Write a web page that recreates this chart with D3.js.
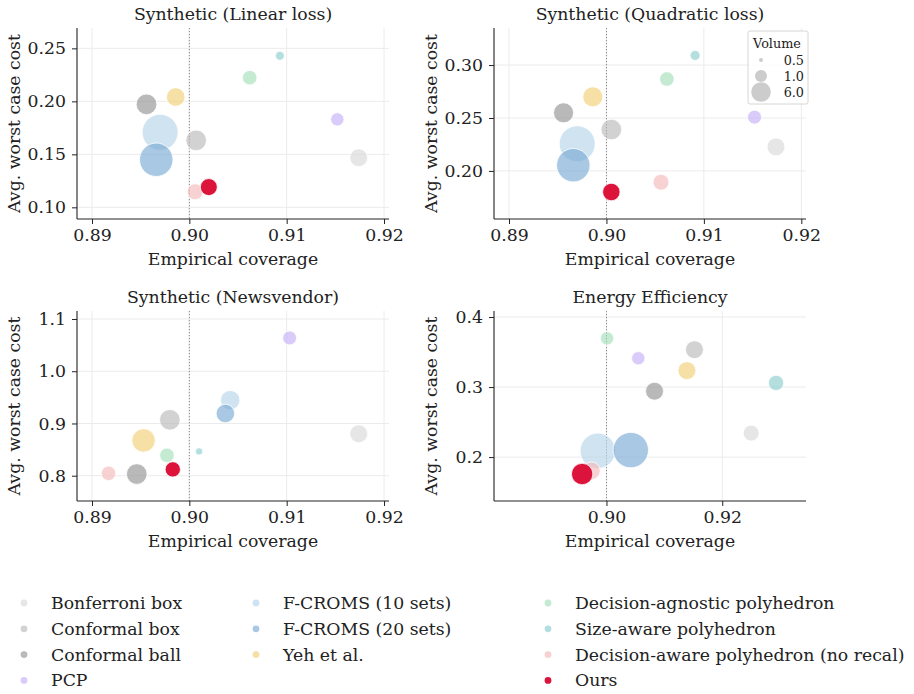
<!DOCTYPE html>
<html>
<head>
<meta charset="utf-8">
<script src="https://cdn.jsdelivr.net/npm/d3@7.9.0/dist/d3.min.js"></script>
<style>
  body { margin: 0; background: #fff; }
  svg, svg text { font-family: "DejaVu Serif", "Liberation Serif", serif; }
</style>
</head>
<body>
<svg id="chart" width="914" height="694"></svg>
<script>
const methods = ["Bonferroni box", "Conformal box", "Conformal ball", "PCP",
  "F-CROMS (10 sets)", "F-CROMS (20 sets)", "Yeh et al.",
  "Decision-agnostic polyhedron", "Size-aware polyhedron",
  "Decision-aware polyhedron (no recal)", "Ours"];
const colors = ["#d8d8d8", "#bababa", "#939393", "#c4b0f9", "#b5d4e8", "#7baad4",
  "#f3cf76", "#a4dfba", "#8dcece", "#f4babb", "#dc143c"];

const panelTitles = ["Synthetic (Linear loss)", "Synthetic (Quadratic loss)",
  "Synthetic (Newsvendor)", "Energy Efficiency"];

// empirical coverage, avg worst case cost, volume (same order as methods)
const linearCoverage = [0.9174, 0.9007, 0.8956, 0.9152, 0.8970, 0.8966, 0.8986, 0.9062, 0.9093, 0.9006, 0.9020];
const linearCost     = [0.1468, 0.1632, 0.1972, 0.1830, 0.1708, 0.1449, 0.2041, 0.2223, 0.2430, 0.1147, 0.1191];
const linearVolume   = [4.9, 6.7, 6.7, 1.9, 16.8, 15.1, 5.3, 2.7, 0.81, 3.6, 4.3];

const quadCoverage = [0.9174, 0.9005, 0.8956, 0.9152, 0.8970, 0.8966, 0.8986, 0.9062, 0.9091, 0.9056, 0.9005];
const quadCost     = [0.2227, 0.2391, 0.2549, 0.2508, 0.2256, 0.2054, 0.2700, 0.2868, 0.3091, 0.1893, 0.1801];
const quadVolume   = [4.9, 6.7, 6.3, 2.3, 16.8, 15.1, 6.3, 2.7, 0.88, 3.6, 4.6];

const newsCoverage = [0.9174, 0.8980, 0.8946, 0.9103, 0.9042, 0.9037, 0.8953, 0.8977, 0.9010, 0.8917, 0.8983];
const newsCost     = [0.8803, 0.9070, 0.8032, 1.0637, 0.9446, 0.9191, 0.8675, 0.8389, 0.8465, 0.8045, 0.8121];
const newsVolume   = [4.9, 6.7, 6.7, 2.3, 5.9, 5.3, 8.5, 2.7, 0.71, 2.7, 3.2];

const energyCoverage = [0.9250, 0.9152, 0.9083, 0.9055, 0.8985, 0.9042, 0.9139, 0.9001, 0.9293, 0.8974, 0.8958];
const energyCost     = [0.2342, 0.3534, 0.2941, 0.3411, 0.2090, 0.2100, 0.3235, 0.3696, 0.3059, 0.1805, 0.1758];
const energyVolume   = [3.6, 4.9, 4.9, 1.9, 16.4, 16.4, 4.9, 1.9, 3.2, 4.7, 7.2];

const xTicksSynth = [0.89, 0.90, 0.91, 0.92];
const xTicksEnergy = [0.90, 0.92];
const yTicksLinear = [0.10, 0.15, 0.20, 0.25];
const yTicksQuad = [0.20, 0.25, 0.30];
const yTicksNews = [0.8, 0.9, 1.0, 1.1];
const yTicksEnergy = [0.2, 0.3, 0.4];

const volumeLegend = [0.5, 1.0, 6.0];
const targetCoverage = 0.90;

const panels = [
  { title: panelTitles[0], cov: linearCoverage, cost: linearCost, vol: linearVolume,
    xd: [0.88846, 0.92051], yd: [0.089, 0.2692], xt: xTicksSynth, yt: yTicksLinear, yf: ".2f",
    box: [77, 28, 389, 219] },
  { title: panelTitles[1], cov: quadCoverage, cost: quadCost, vol: quadVolume,
    xd: [0.88846, 0.92048], yd: [0.1546, 0.335], xt: xTicksSynth, yt: yTicksQuad, yf: ".2f",
    box: [494, 28, 806, 219] },
  { title: panelTitles[2], cov: newsCoverage, cost: newsCost, vol: newsVolume,
    xd: [0.88846, 0.92051], yd: [0.7516, 1.1153], xt: xTicksSynth, yt: yTicksNews, yf: ".1f",
    box: [77, 311, 389, 501] },
  { title: panelTitles[3], cov: energyCoverage, cost: energyCost, vol: energyVolume,
    xd: [0.88057, 0.93447], yd: [0.1373, 0.4086], xt: xTicksEnergy, yt: yTicksEnergy, yf: ".1f",
    box: [494, 311, 806, 501] }
];

// marker radius from volume (piecewise, matches the Volume legend)
const rScale = d3.scaleLinear().domain([0.5, 1, 6]).range([2, 6, 9.8]);

const svg = d3.select("#chart");
const ink = "#222";
const fs = 17.3;
const serif = "DejaVu Serif";

panels.forEach((p, pi) => {
  const [x0, y0, x1, y1] = p.box;
  const x = d3.scaleLinear().domain(p.xd).range([x0, x1]);
  const y = d3.scaleLinear().domain(p.yd).range([y1, y0]);
  const g = svg.append("g");

  // grid
  g.selectAll(".gx").data(p.xt).join("line")
    .attr("x1", d => x(d)).attr("x2", d => x(d))
    .attr("y1", y0).attr("y2", y1)
    .attr("stroke", "#ebebeb").attr("stroke-width", 1);
  g.selectAll(".gy").data(p.yt).join("line")
    .attr("y1", d => y(d)).attr("y2", d => y(d))
    .attr("x1", x0).attr("x2", x1)
    .attr("stroke", "#ebebeb").attr("stroke-width", 1);

  // target coverage
  g.append("line")
    .attr("x1", x(targetCoverage)).attr("x2", x(targetCoverage))
    .attr("y1", y0).attr("y2", y1)
    .attr("stroke", "#888").attr("stroke-width", 1)
    .attr("stroke-dasharray", "1.2,1.8");

  const pts = methods.map((m, i) => ({ m, i, cx: p.cov[i], cy: p.cost[i], v: p.vol[i] }));
  g.selectAll("circle").data(pts).join("circle")
    .attr("cx", d => x(d.cx)).attr("cy", d => y(d.cy))
    .attr("r", d => rScale(d.v))
    .attr("fill", d => colors[d.i])
    .attr("fill-opacity", d => d.m === "Ours" ? 1 : 0.65)
    .attr("stroke", "#fff").attr("stroke-width", 0.8);

  // axes
  const xa = g.append("g").attr("transform", `translate(0,${y1})`)
    .call(d3.axisBottom(x).tickValues(p.xt).tickFormat(d3.format(".2f")).tickSize(5).tickPadding(5));
  const ya = g.append("g").attr("transform", `translate(${x0},0)`)
    .call(d3.axisLeft(y).tickValues(p.yt).tickFormat(d3.format(p.yf)).tickSize(5).tickPadding(6));
  [xa, ya].forEach(a => {
    a.attr("font-family", serif).attr("font-size", fs);
    a.selectAll(".tick text").attr("font-family", serif).attr("font-size", fs).attr("fill", ink);
    a.select(".domain").attr("stroke", ink).attr("stroke-width", 1.1);
    a.selectAll(".tick line").attr("stroke", ink);
  });
  ya.select(".domain").attr("d", `M0,${y0}V${y1}`);
  xa.select(".domain").attr("d", `M${x0},0H${x1}`);

  g.append("text")
    .attr("x", (x0 + x1) / 2).attr("y", y0 - 8)
    .attr("text-anchor", "middle").attr("font-size", fs).attr("fill", ink)
    .text(p.title);
  g.append("text")
    .attr("x", (x0 + x1) / 2).attr("y", y1 + 46)
    .attr("text-anchor", "middle").attr("font-size", fs).attr("fill", ink)
    .text("Empirical coverage");
  g.append("text")
    .attr("transform", `translate(${x0 - 57},${(y0 + y1) / 2}) rotate(-90)`)
    .attr("text-anchor", "middle").attr("font-size", fs).attr("fill", ink)
    .text("Avg. worst case cost");

  // volume legend in the second panel
  if (pi === 1) {
    const lg = g.append("g");
    lg.append("rect").attr("x", 748).attr("y", 31).attr("width", 60).attr("height", 73)
      .attr("rx", 2).attr("fill", "#fff").attr("fill-opacity", 0.8)
      .attr("stroke", "#d6d6d6");
    lg.append("text").attr("x", 777).attr("y", 48).attr("text-anchor", "middle")
      .attr("font-size", 12.8).attr("fill", ink).text("Volume");
    volumeLegend.forEach((v, k) => {
      const yy = 60 + k * 16;
      lg.append("circle").attr("cx", 761).attr("cy", yy).attr("r", rScale(v))
        .attr("fill", "#b0b0b0").attr("fill-opacity", 0.65);
      lg.append("text").attr("x", 804).attr("y", yy + 4.5).attr("text-anchor", "end")
        .attr("font-size", 12.8).attr("fill", ink).text(d3.format(".1f")(v));
    });
  }
});

// method legend
const legendCols = [[0, 1, 2, 3], [4, 5, 6], [7, 8, 9, 10]];
const colX = [24, 256, 548];
const leg = svg.append("g");
legendCols.forEach((col, c) => {
  col.forEach((mi, r) => {
    const yy = 603 + r * 25.8;
    leg.append("circle").attr("cx", colX[c]).attr("cy", yy).attr("r", 3.4)
      .attr("fill", colors[mi]).attr("fill-opacity", methods[mi] === "Ours" ? 1 : 0.65);
    leg.append("text").attr("x", colX[c] + 27).attr("y", yy + 6)
      .attr("font-family", serif).attr("font-size", fs).attr("fill", ink).text(methods[mi]);
  });
});
</script>
</body>
</html>
